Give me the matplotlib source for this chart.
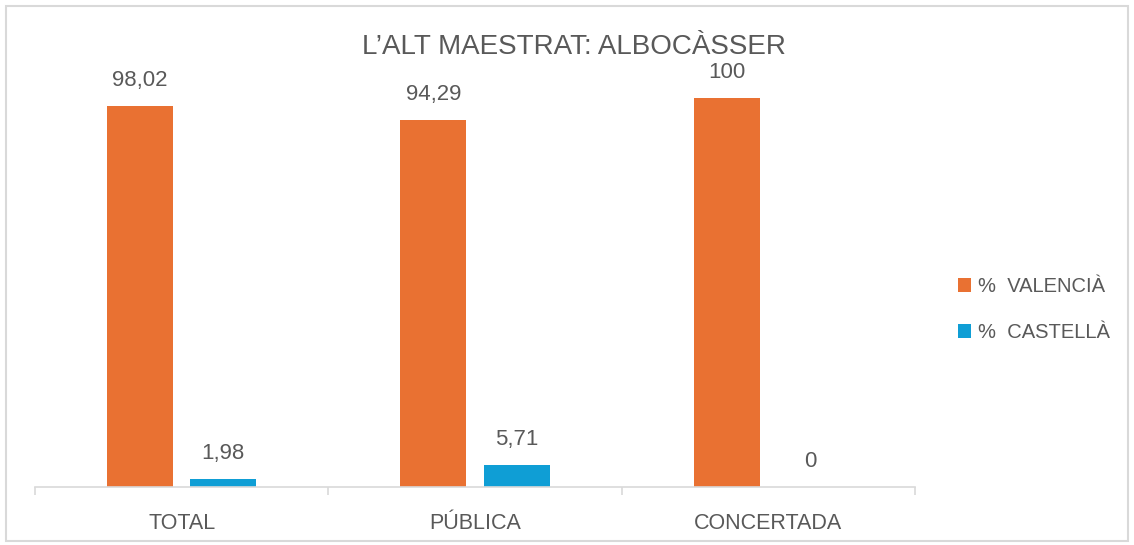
import matplotlib.pyplot as plt
from matplotlib.patches import Rectangle
import numpy as np

plt.rcParams['font.family'] = ['Liberation Sans', 'DejaVu Sans']

# dades: percentatge d'alumnat per llengua
categories = ['TOTAL', 'PÚBLICA', 'CONCERTADA']
valencia = [98.02, 94.29, 100]
castella = [1.98, 5.71, 0]
series_names = ['%  VALENCIÀ', '%  CASTELLÀ']

orange = '#E97132'
blue = '#0F9ED5'
text_color = '#595959'
grid_gray = '#D9D9D9'

def fmt(v):
    # etiqueta amb coma decimal
    return f'{v:g}'.replace('.', ',')

fig = plt.figure(figsize=(11.34, 5.45), dpi=100)
ax = fig.add_axes([0.0309, 0.1064, 0.776, 0.7835])

x = np.arange(len(categories))
w = 0.225
off = 0.142
b1 = ax.bar(x - off, valencia, w, color=orange, label=series_names[0])
b2 = ax.bar(x + off, castella, w, color=blue, label=series_names[1])

for bars, vals in ((b1, valencia), (b2, castella)):
    for rect, v in zip(bars, vals):
        ax.annotate(fmt(v), (rect.get_x() + rect.get_width() / 2, v),
                    xytext=(0, 11), textcoords='offset points',
                    ha='center', va='bottom', fontsize=16, color=text_color,
                    annotation_clip=False)

ax.set_xlim(-0.5, 2.5)
ax.set_ylim(0, 109.8)
for s in ('top', 'right', 'left'):
    ax.spines[s].set_visible(False)
ax.spines['bottom'].set_color(grid_gray)
ax.spines['bottom'].set_linewidth(1.2)
ax.set_yticks([])

# marques entre categories
ax.set_xticks([-0.5, 0.5, 1.5, 2.5])
ax.set_xticklabels([])
ax.tick_params(axis='x', which='major', length=6, color=grid_gray, width=1.2)
ax.set_xticks(x, minor=True)
ax.set_xticklabels(categories, minor=True)
ax.tick_params(axis='x', which='minor', length=0, pad=19, labelsize=15.5,
               labelcolor=text_color)

fig.text(0.506, 0.914, 'L\u2019ALT MAESTRAT: ALBOCÀSSER', ha='center',
         va='center', fontsize=20, color=text_color)

leg = fig.legend(handles=[b1, b2], loc='center left',
                 bbox_to_anchor=(0.845, 0.432), frameon=False, fontsize=14.5,
                 borderpad=0, borderaxespad=0,
                 handlelength=0.65, handleheight=0.65, handletextpad=0.35,
                 labelspacing=1.35)
for t in leg.get_texts():
    t.set_color(text_color)

# vora del gràfic
fig.patches.append(Rectangle((0.005, 0.007), 0.99, 0.982, transform=fig.transFigure,
                             fill=False, edgecolor=grid_gray, linewidth=1.5))

fig.savefig('out.png', dpi=100)
